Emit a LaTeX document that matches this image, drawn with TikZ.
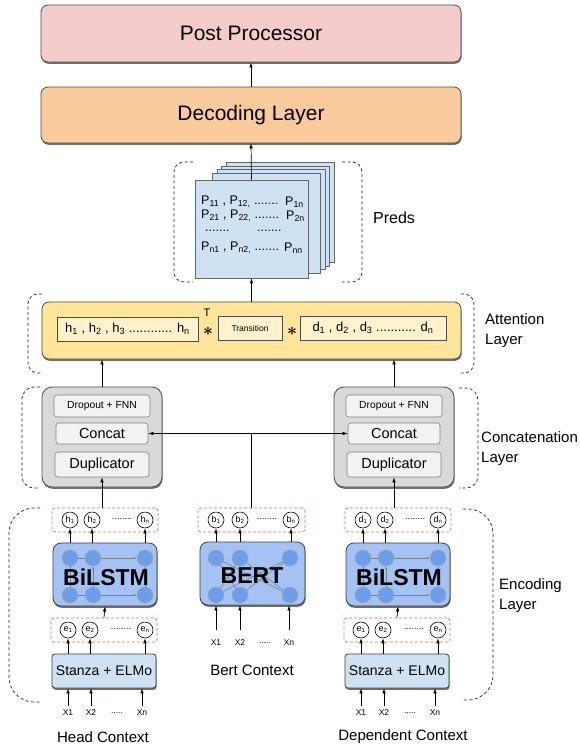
\documentclass[tikz,border=0pt]{standalone}
\usepackage{fontspec}
\setmainfont{Liberation Sans}
\usetikzlibrary{arrows.meta,shadows,calc}
\definecolor{postc}{HTML}{F4CCCC}
\definecolor{decc}{HTML}{F9CB9C}
\definecolor{predc}{HTML}{CFE2F3}
\definecolor{attc}{HTML}{FFE599}
\definecolor{attin}{HTML}{FFF2CC}
\definecolor{grayc}{HTML}{D9D9D9}
\definecolor{grayin}{HTML}{F3F3F3}
\definecolor{netc}{HTML}{A4C2F4}
\definecolor{nodec}{HTML}{6D9EEB}
\definecolor{stanc}{HTML}{CFE2F3}
\definecolor{redd}{HTML}{E06666}
\newcommand\fsz[2]{\fontsize{#1}{#2}\selectfont}
\begin{document}
\begin{tikzpicture}[x=1pt,y=-1pt,
  arr/.style={-{Latex[length=5pt,width=3.6pt]}, line width=0.7pt},
  shad/.style={drop shadow={shadow xshift=0.6pt, shadow yshift=-1.8pt, fill=black!80, opacity=0.7}},
  bigbox/.style={draw=black!70, line width=0.8pt, rounded corners=7pt, shad, inner sep=0pt},
  sheet/.style={draw=black!60, fill=predc, line width=0.6pt, inner sep=0pt},
  ptext/.style={font=\fsz{12.5}{14}, inner sep=0pt},
  attbox/.style={draw=black!70, fill=attin, line width=0.6pt, inner sep=0pt},
  inbox/.style={draw=black!50, fill=grayin, rounded corners=3pt, line width=0.6pt, inner sep=0pt},
  redbox/.style={draw=redd, dash pattern=on 3pt off 2pt, fill=white, rounded corners=3pt, line width=0.8pt},
  circ/.style={circle, draw=black, fill=white, line width=0.6pt, minimum size=16pt, inner sep=0pt, font=\fsz{9}{10}},
  ncirc/.style={circle, fill=nodec, draw=black!35, line width=0.5pt, minimum size=16pt, inner sep=0pt},
  netbox/.style={draw=black!75, fill=netc, rounded corners=8pt, line width=0.8pt, shad, inner sep=0pt},
  stanbox/.style={draw=black!75, fill=stanc, rounded corners=3pt, line width=0.8pt, shad, inner sep=0pt, font=\fsz{14}{16}},
  gline/.style={draw=black!50, line width=0.6pt},
  garr/.style={draw=black!50, line width=0.6pt, -{Latex[length=3pt,width=2.5pt]}},
  nettext/.style={font=\fsz{23}{26}\bfseries, inner sep=0pt},
  bracket/.style={dash pattern=on 3pt off 2.5pt, line width=0.7pt, draw=black!85},
  lbl/.style={font=\fsz{15}{20}, align=left, anchor=west, inner sep=0pt},
  xlbl/.style={font=\fsz{8.5}{10}, inner sep=0pt},
  ctx/.style={font=\fsz{15}{18}, inner sep=0pt},
  dotsty/.style={font=\fsz{9}{10}, inner sep=0pt},
  starsty/.style={inner sep=0pt, font=\fsz{18}{18}\boldmath}
]
\fill[white] (0,0) rectangle (580,747);
\useasboundingbox (0,0) rectangle (580,747);

% ---------- top boxes
\node[bigbox, fill=postc, minimum width=420pt, minimum height=57pt, font=\fsz{21}{24}] (post) at (251,33.5) {Post Processor};
\node[bigbox, fill=decc, minimum width=420pt, minimum height=56pt, font=\fsz{21}{24}] (dec) at (251,115) {Decoding Layer};
\draw[arr] (dec.north) -- (post.south);

% ---------- preds
\draw[bracket, rounded corners=10pt] (193,162) -- (174,162) -- (174,282) -- (193,282);
\draw[bracket, rounded corners=10pt] (342,162) -- (362,162) -- (362,282) -- (342,282);
\foreach \k in {4,3,2,1}
  \node[sheet, minimum width=108pt, minimum height=100pt] (sheet\k) at (262+4.5*\k,226.5-3.5*\k) {};
\node[sheet, minimum width=113pt, minimum height=98pt] (front) at (251.5,229) {};
\node[ptext, anchor=west] (p1a) at (201,202) {P\textsubscript{11} , P\textsubscript{12,} .......};
\node[ptext, anchor=west] (p1b) at (285,202) {P\textsubscript{1n}};
\node[ptext, anchor=west] (p2a) at (201,216) {P\textsubscript{21} , P\textsubscript{22,} .......};
\node[ptext, anchor=west] (p2b) at (286,216) {P\textsubscript{2n}};
\node[ptext, anchor=west] (p3a) at (205,231) {.......};
\node[ptext, anchor=west] (p3b) at (257,231) {.......};
\node[ptext, anchor=west] (p4a) at (201,248) {P\textsubscript{n1} , P\textsubscript{n2,} .......};
\node[ptext, anchor=west] (p4b) at (284,248) {P\textsubscript{nn}};
\node[lbl, font=\fsz{16}{20}] (predslbl) at (373,218) {Preds};
\draw[arr] (front.north) -- (dec.south);

% ---------- attention
\draw[bracket, rounded corners=10pt] (42,294) -- (28,294) -- (28,373) -- (42,373);
\draw[bracket, rounded corners=10pt] (461,294) -- (474,294) -- (474,373) -- (461,373);
\node[bigbox, fill=attc, minimum width=419pt, minimum height=57pt] (att) at (251.5,330.5) {};
\node[attbox, minimum width=141pt, minimum height=24pt, font=\fsz{13}{14}] (hrow) at (127.5,329)
  {h\textsubscript{1} , h\textsubscript{2} , h\textsubscript{3} ............ h\textsubscript{n}};
\node[inner sep=0pt, font=\fsz{11}{12}] (tsup) at (207,313) {T};
\node[starsty] (star1) at (208,331) {$\ast$};
\node[attbox, minimum width=64pt, minimum height=24pt, font=\fsz{8.5}{10}] (trans) at (250,328) {Transition};
\node[starsty] (star2) at (292,331) {$\ast$};
\node[attbox, minimum width=146pt, minimum height=24pt, font=\fsz{13}{14}] (drow) at (373,328)
  {d\textsubscript{1} , d\textsubscript{2} , d\textsubscript{3} ........... d\textsubscript{n}};
\node[lbl] (attlbl) at (485,331) {Attention\\Layer};
\draw[arr] (att.north) -- (front.south);

% ---------- concatenation
\draw[bracket, rounded corners=12pt] (40,387) -- (22,387) -- (22,488) -- (40,488);
\draw[bracket, rounded corners=12pt] (459,388) -- (478,388) -- (478,488) -- (459,488);
\foreach \c/\cx in {L/102,R/394}{
  \node[bigbox, fill=grayc, rounded corners=10pt, minimum width=120pt, minimum height=100pt] (gray\c) at (\cx,437) {};
  \node[inbox, minimum width=96pt, minimum height=22pt, font=\fsz{10.3}{12}] (drop\c) at (\cx,406) {Dropout + FNN};
  \node[inbox, minimum width=92pt, minimum height=21pt, font=\fsz{14.5}{16}] (concat\c) at (\cx,433.5) {Concat};
  \node[inbox, minimum width=94pt, minimum height=25pt, font=\fsz{14.5}{16}] (dup\c) at (\cx,464.5) {Duplicator};
  \draw[arr] (gray\c.north) -- (gray\c.north |- att.south);
}
\node[lbl] (conclbl) at (481,449) {Concatenation\\Layer};

% ---------- encoding
\draw[bracket, rounded corners=25pt] (40,508) -- (9,508) -- (9,702) -- (40,702);
\draw[bracket, rounded corners=25pt] (463,509) -- (493,509) -- (493,700) -- (463,700);
\node[lbl] (enclbl) at (499,596) {Encoding\\Layer};

\foreach \c/\cx/\o/\cl/\cxx in {L/105/h/Head Context/103, R/398/d/Dependent Context/403}{
  \node[redbox, minimum width=106pt, minimum height=24pt] (out\c) at (\cx,520) {};
  \node[circ] (o1\c) at (\cx-35,520) {\o\textsubscript{1}};
  \node[circ] (o2\c) at (\cx-13,520) {\o\textsubscript{2}};
  \node[circ] (o3\c) at (\cx+40,520) {\o\textsubscript{n}};
  \node[dotsty] (od\c) at (\cx+17,519) {........};
  \node[netbox, minimum width=104pt, minimum height=63pt] (net\c) at (\cx,574.5) {};
  \node[ncirc] (t1\c) at (\cx-35,558) {};
  \node[ncirc] (t2\c) at (\cx-12,558) {};
  \node[ncirc] (t3\c) at (\cx+40,558) {};
  \node[ncirc] (b1\c) at (\cx-35,595) {};
  \node[ncirc] (b2\c) at (\cx-12,595) {};
  \node[ncirc] (b3\c) at (\cx+40,595) {};
  \draw[gline] (t1\c) -- (t2\c);
  \draw[garr] (t2\c) -- (t3\c);
  \draw[gline] (b1\c) -- (b2\c);
  \draw[garr] (b2\c) -- (b3\c);
  \draw[gline] (b1\c) -- (t1\c);
  \draw[garr] (b2\c) -- (t2\c);
  \draw[garr] (b3\c) -- (t3\c);
  \node[nettext] (nt\c) at (\cx+1,577) {BiLSTM};
  \node[redbox, minimum width=106pt, minimum height=24pt] (emb\c) at (\cx-1,630) {};
  \node[circ] (e1\c) at (\cx-37,630) {e\textsubscript{1}};
  \node[circ] (e2\c) at (\cx-15,630) {e\textsubscript{2}};
  \node[circ] (e3\c) at (\cx+40,630) {e\textsubscript{n}};
  \node[dotsty] (ed\c) at (\cx+16,629) {........};
  \node[stanbox, minimum width=104pt, minimum height=34pt] (st\c) at (\cx-1,671) {Stanza + ELMo};
  \node[xlbl] (x1\c) at (\cx-37,713) {X1};
  \node[xlbl] (x2\c) at (\cx-14,713) {X2};
  \node[xlbl] (xd\c) at (\cx+12,713) {.....};
  \node[xlbl] (xn\c) at (\cx+37,713) {Xn};
  \node[ctx] (ctx\c) at (\cxx,737) {\cl};
  \draw[arr] ([yshift=4pt]x1\c.north) -- (x1\c |- st\c.south);
  \draw[arr] ([yshift=4pt]x2\c.north) -- (x2\c |- st\c.south);
  \draw[arr] ([yshift=4pt]xn\c.north) -- (xn\c |- st\c.south);
  \draw[arr] (e1\c |- st\c.north) -- (e1\c.south);
  \draw[arr] (e2\c |- st\c.north) -- (e2\c.south);
  \draw[arr] (e3\c |- st\c.north) -- (e3\c.south);
  \draw[arr] (emb\c.north) -- (net\c.south);
  \draw[arr] (o1\c |- net\c.north) -- (o1\c.south);
  \draw[arr] (o2\c |- net\c.north) -- (o2\c.south);
  \draw[arr] (o3\c |- net\c.north) -- (o3\c.south);
  \draw[arr] (out\c.north -| dup\c.south) -- (dup\c.south);
}

% BERT column
\node[redbox, minimum width=107pt, minimum height=24pt] (outB) at (251.5,520) {};
\node[circ] (o1B) at (216,520) {b\textsubscript{1}};
\node[circ] (o2B) at (240,520) {b\textsubscript{2}};
\node[circ] (o3B) at (291,520) {b\textsubscript{n}};
\node[dotsty] (odB) at (267,519) {........};
\node[netbox, minimum width=105pt, minimum height=63pt] (netB) at (252.5,573.5) {};
\node[ncirc] (t1B) at (216,558) {};
\node[ncirc] (t2B) at (240,558) {};
\node[ncirc] (t3B) at (290,558) {};
\node[ncirc] (b1B) at (216,595) {};
\node[ncirc] (b2B) at (240,595) {};
\node[ncirc] (b3B) at (290,595) {};
\draw[gline] (b1B) -- (t2B);
\draw[gline] (b1B) -- (t3B);
\draw[gline] (b2B) -- (t1B);
\draw[gline] (b2B) -- (t3B);
\draw[gline] (b3B) -- (t1B);
\draw[gline] (b3B) -- (t2B);
\node[nettext] (ntB) at (252,576) {BERT};
\node[xlbl] (x1B) at (216,643) {X1};
\node[xlbl] (x2B) at (240,643) {X2};
\node[xlbl] (xdB) at (265,643) {.....};
\node[xlbl] (xnB) at (289,643) {Xn};
\node[ctx] (ctxB) at (252,670) {Bert Context};
\draw[arr] ([yshift=10pt]x1B.north) -- (x1B |- netB.south);
\draw[arr] ([yshift=10pt]x2B.north) -- (x2B |- netB.south);
\draw[arr] ([yshift=10pt]xnB.north) -- (xnB |- netB.south);
\draw[arr] (o1B |- netB.north) -- (o1B.south);
\draw[arr] (o2B |- netB.north) -- (o2B.south);
\draw[arr] (o3B |- netB.north) -- (o3B.south);

% concat connections
\coordinate (junc) at (outB.north |- concatL.east);
\draw[line width=0.7pt] (outB.north) -- (junc);
\draw[arr] (junc) -- (concatL.east);
\draw[arr] (junc) -- (concatR.west);
\end{tikzpicture}
\end{document}
